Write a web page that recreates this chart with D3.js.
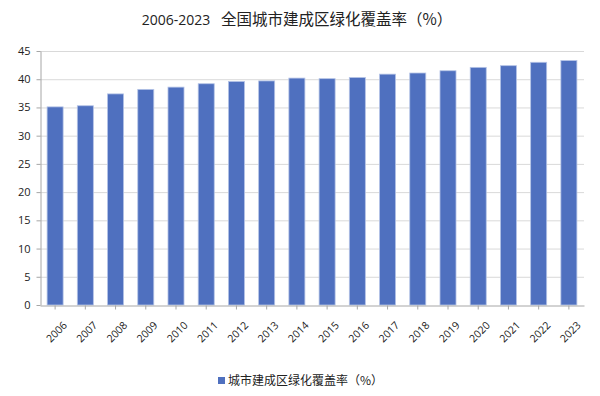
<!DOCTYPE html>
<html>
<head>
<meta charset="utf-8">
<script src="https://cdn.jsdelivr.net/npm/d3@7"></script>
<style>
  body { margin: 0; background: #fff; }
  svg { display: block; font-family: "Noto Sans CJK SC", "Noto Sans", sans-serif; }
</style>
</head>
<body>
<svg id="chart"></svg>
<script>
const width = 600;
const height = 396;
const margin = { top: 51, right: 16, bottom: 91, left: 40 };

const years = ["2006","2007","2008","2009","2010","2011","2012","2013","2014","2015","2016","2017","2018","2019","2020","2021","2022","2023"];
const coverage = [35.1, 35.3, 37.4, 38.2, 38.6, 39.2, 39.6, 39.7, 40.2, 40.1, 40.3, 40.9, 41.1, 41.5, 42.1, 42.4, 43.0, 43.3];
const yTicks = [0, 5, 10, 15, 20, 25, 30, 35, 40, 45];

const data = years.map((y, i) => ({ year: y, value: coverage[i] }));

const svg = d3.select("#chart")
  .attr("width", width)
  .attr("height", height)
  .attr("viewBox", [0, 0, width, height]);

const x = d3.scaleBand()
  .domain(years)
  .range([margin.left, width - margin.right])
  .paddingInner(0.47)
  .paddingOuter(0.235);

const y = d3.scaleLinear()
  .domain([0, 45])
  .range([height - margin.bottom, margin.top]);

// title
const title = svg.append("text")
  .attr("x", 297)
  .attr("y", 25)
  .attr("text-anchor", "middle")
  .style("font-size", "15.5px")
  .style("white-space", "pre")
  .attr("fill", "#222");
title.append("tspan")
  .style("font-family", "'Open Sans', sans-serif")
  .style("font-size", "14px")
  .text("2006-2023   ");
title.append("tspan").text("全国城市建成区绿化覆盖率（%）");

// gridlines
svg.append("g")
  .selectAll("line")
  .data(yTicks.filter(d => d > 0))
  .join("line")
  .attr("x1", margin.left)
  .attr("x2", width - margin.right)
  .attr("y1", d => y(d) + 0.5)
  .attr("y2", d => y(d) + 0.5)
  .attr("stroke", "#d9d9d9");

// bars
svg.append("g")
  .selectAll("rect")
  .data(data)
  .join("rect")
  .attr("x", d => x(d.year))
  .attr("y", d => y(d.value))
  .attr("width", x.bandwidth())
  .attr("height", d => y(0) - y(d.value))
  .attr("fill", "#4f70bf")
  .attr("stroke", "#b4c3e6")
  .attr("stroke-width", 0.8);

// y axis
const yAxis = svg.append("g")
  .attr("transform", `translate(${margin.left + 0.5},0)`)
  .call(d3.axisLeft(y).tickValues(yTicks).tickSize(4).tickSizeOuter(0));
yAxis.select(".domain").attr("stroke", "#a6a6a6");
yAxis.selectAll(".tick line").attr("stroke", "#a6a6a6");
yAxis.selectAll("text")
  .style("font-family", "'Open Sans', sans-serif")
  .style("font-size", "11px")
  .attr("fill", "#222")
  .attr("x", -10);

// x axis
const xAxis = svg.append("g")
  .attr("transform", `translate(0,${y(0) + 0.5})`)
  .call(d3.axisBottom(x).tickSize(4).tickSizeOuter(0));
xAxis.select(".domain").attr("stroke", "#a6a6a6");
xAxis.selectAll(".tick line").attr("stroke", "#a6a6a6");
xAxis.selectAll("text")
  .style("font-family", "'Open Sans', sans-serif")
  .style("font-size", "10.5px")
  .attr("fill", "#222")
  .attr("text-anchor", "end")
  .attr("dy", "0.35em")
  .attr("transform", "translate(5,13) rotate(-45)");

// legend
const legend = svg.append("g").attr("transform", "translate(218,381)");
legend.append("rect")
  .attr("x", 0).attr("y", -4)
  .attr("width", 7).attr("height", 7)
  .attr("fill", "#4f70bf");
legend.append("text")
  .attr("x", 10)
  .attr("y", 4)
  .style("font-size", "12px")
  .attr("fill", "#222")
  .text("城市建成区绿化覆盖率（%）");
</script>
</body>
</html>
